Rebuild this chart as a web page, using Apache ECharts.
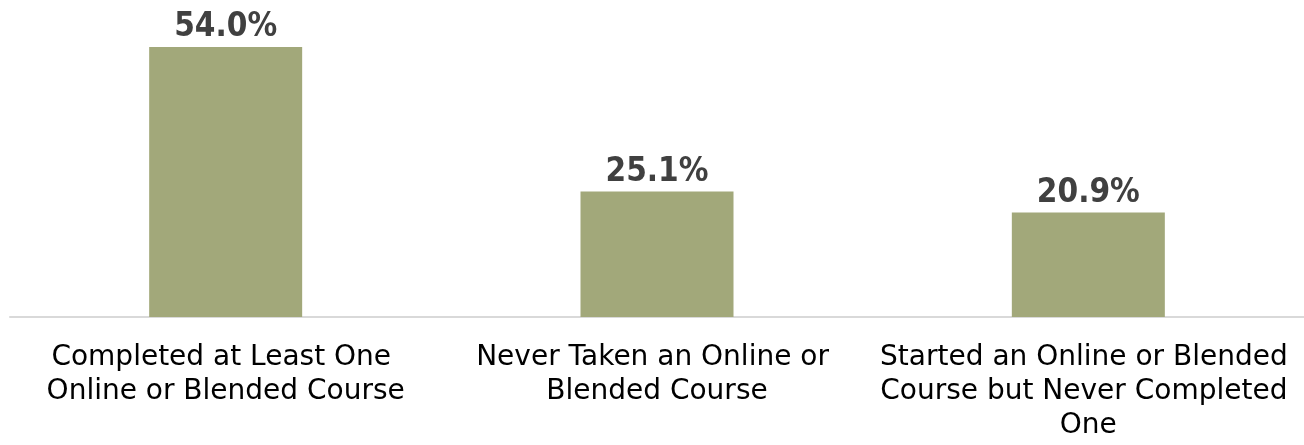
<!DOCTYPE html>
<html>
<head>
<meta charset="utf-8">
<script src="https://cdn.jsdelivr.net/npm/echarts@6/dist/echarts.min.js"></script>
<style>html,body{margin:0;padding:0;background:#fff}#c{width:1304px;height:445px}</style>
</head>
<body>
<div id="c"></div>
<script>
var categories = ["Completed at Least One Online or Blended Course", "Never Taken an Online or Blended Course", "Started an Online or Blended Course but Never Completed One"];
var values = [54.0, 25.1, 20.9];

var chart = echarts.init(document.getElementById('c'), null, {renderer: 'canvas'});
chart.setOption({
  animation: false,
  backgroundColor: '#ffffff',
  grid: {left: 10, right: 0, top: 17, bottom: 128, containLabel: false},
  xAxis: {
    type: 'category',
    data: categories,
    axisLine: {show: true, lineStyle: {color: '#d9d9d9', width: 2}},
    axisTick: {show: false},
    axisLabel: {
      interval: 0,
      margin: 24,
      color: '#000000',
      fontFamily: 'DejaVu Sans',
      fontSize: 28,
      lineHeight: 34,
      width: 425,
      overflow: 'break',
      align: 'center'
    }
  },
  yAxis: {
    type: 'value',
    min: 0,
    max: 60,
    show: false,
    splitLine: {show: false}
  },
  series: [{
    type: 'bar',
    data: values,
    barWidth: 153,
    itemStyle: {color: '#a2a87a'},
    label: {
      show: true,
      position: 'top',
      distance: 3,
      formatter: function (p) { return p.value.toFixed(1) + '%'; },
      color: '#404040',
      fontFamily: '"DejaVu Sans Condensed", "DejaVu Sans"',
      fontWeight: 'bold',
      fontSize: 33
    }
  }]
});
</script>
</body>
</html>
